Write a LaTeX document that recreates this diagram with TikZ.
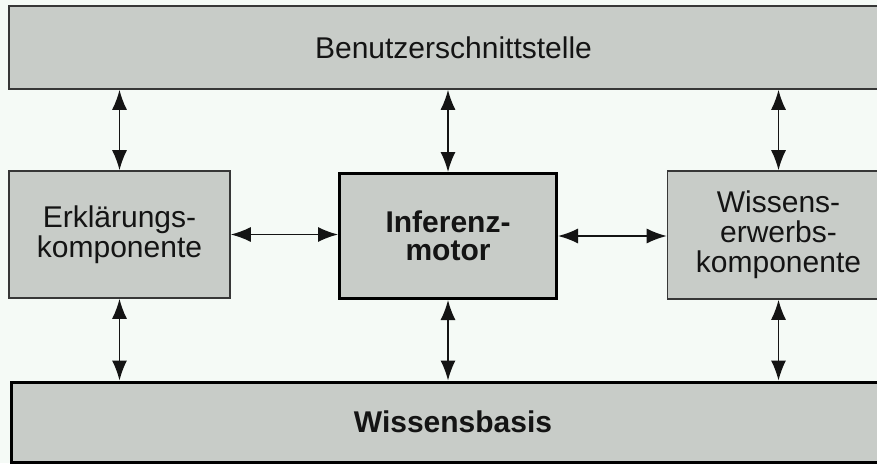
\documentclass[tikz,border=0pt]{standalone}
\usepackage{fontspec}
\setmainfont{Liberation Sans}
\usetikzlibrary{arrows.meta}
\definecolor{paper}{RGB}{245,250,246}
\definecolor{boxfill}{RGB}{200,204,200}
\definecolor{ink}{RGB}{20,20,20}
\tikzset{
  box/.style={draw=ink!85, fill=boxfill, line width=1.6pt, align=center,
    text=ink, inner sep=0pt,
    font=\fontsize{30}{30}\selectfont},
  keybox/.style={box, draw=black, line width=3pt,
    font=\fontsize{30}{28}\selectfont\bfseries},
  tip/.style={Latex[length=20pt,width=15pt]},
  conn/.style={draw=ink, line width=1.5pt, {Latex[length=20pt,width=15pt]}-{Latex[length=20pt,width=15pt]}}
}
\begin{document}
\begin{tikzpicture}[x=1pt,y=-1pt]
  \fill[paper] (0,0) rectangle (877,463);
  \useasboundingbox (0,0) rectangle (877,463);
  \clip (0,0) rectangle (877,463);

  % component boxes
  \node[box, minimum width=889pt, minimum height=83pt] (ui) at (453.5,47.5)
    {Benutzerschnittstelle};
  \node[box, minimum width=221pt, minimum height=127pt] (expl) at (119.5,234.5)
    {Erklärungs-\\komponente};
  \node[keybox, minimum width=217pt, minimum height=125pt] (engine) at (448,236)
    {Inferenz-\\motor};
  \node[box, minimum width=222pt, minimum height=128pt] (acq) at (778.5,235)
    {Wissens-\\erwerbs-\\komponente};
  \node[keybox, minimum width=883pt, minimum height=80pt] (kb) at (453,422)
    {Wissensbasis};

  % connections to the user interface
  \draw[conn] (ui.south -| expl.north) -- (expl.north);
  \draw[conn] (ui.south -| engine.north) -- (engine.north);
  \draw[conn] (ui.south -| acq.north) -- (acq.north);

  % connections to the knowledge base
  \draw[conn] (expl.south) -- (expl.south |- kb.north);
  \draw[conn] (engine.south) -- (engine.south |- kb.north);
  \draw[conn] (acq.south) -- (acq.south |- kb.north);

  % connections to the inference engine
  \draw[conn] (expl.east) -- (expl.east -| engine.west);
  \draw[conn] (engine.east) -- (engine.east -| acq.west);
\end{tikzpicture}
\end{document}
